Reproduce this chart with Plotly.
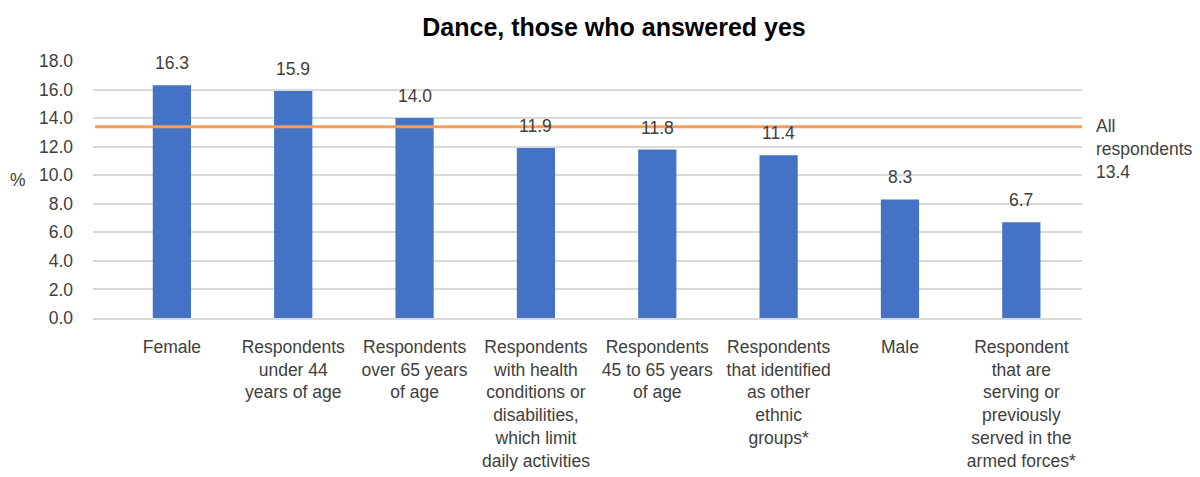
import plotly.graph_objects as go

categories = [
    "Female",
    "Respondents<br>under 44<br>years of age",
    "Respondents<br>over 65 years<br>of age",
    "Respondents<br>with health<br>conditions or<br>disabilities,<br>which limit<br>daily activities",
    "Respondents<br>45 to 65 years<br>of age",
    "Respondents<br>that identified<br>as other<br>ethnic<br>groups*",
    "Male",
    "Respondent<br>that are<br>serving or<br>previously<br>served in the<br>armed forces*",
]
values = [16.3, 15.9, 14.0, 11.9, 11.8, 11.4, 8.3, 6.7]
all_respondents = 13.4
y_ticks = [0, 2, 4, 6, 8, 10, 12, 14, 16, 18]

FONT = "Liberation Sans"
TXT = "#404040"
FS = 17.5
x_idx = list(range(len(categories)))

fig = go.Figure()
fig.add_trace(go.Bar(
    x=x_idx, y=values, width=0.315,
    marker=dict(color="#4472C4", line=dict(width=0)),
    hoverinfo="skip",
))

fig.add_shape(type="line", xref="paper", yref="y", x0=0.002, x1=1, y0=all_respondents, y1=all_respondents,
              line=dict(color="#F79C5B", width=3), layer="above")

for xi, v in zip(x_idx, values):
    fig.add_annotation(x=xi, y=v, text=f"{v:.1f}", showarrow=False, yanchor="bottom", yshift=10,
                       font=dict(family=FONT, size=FS, color=TXT))

fig.add_annotation(xref="paper", x=1, xanchor="left", xshift=12, y=all_respondents, yanchor="top", yshift=13,
                   text=f"All<br>respondents<br>{all_respondents:.1f}", align="left", showarrow=False,
                   font=dict(family=FONT, size=FS, color=TXT))

fig.add_annotation(xref="paper", yref="paper", x=0, xanchor="center", xshift=-75, y=0.537, text="%",
                   showarrow=False, font=dict(family=FONT, size=FS, color=TXT))

fig.update_layout(
    width=1200, height=477,
    margin=dict(l=85, r=126, t=53, b=167, autoexpand=False),
    paper_bgcolor="white", plot_bgcolor="white",
    showlegend=False,
    title=dict(text="<b>Dance, those who answered yes</b>", x=0.505, xanchor="center",
               y=1 - 19 / 477, yanchor="middle",
               font=dict(family=FONT, size=25, color="black")),
    font=dict(family=FONT, size=FS, color=TXT),
    xaxis=dict(
        tickmode="array", tickvals=x_idx, ticktext=categories,
        range=[-0.65, 7.5], showgrid=False, showline=True, linecolor="#D9D9D9", linewidth=1.5,
        ticks="", tickfont=dict(family=FONT, size=FS, color=TXT), ticklabelstandoff=12,
        tickangle=0, fixedrange=True, automargin=False,
    ),
    yaxis=dict(
        range=[0, 18], tickmode="array", tickvals=y_ticks, ticktext=[f"{t:.1f}" for t in y_ticks],
        showgrid=True, gridcolor="#D9D9D9", gridwidth=1.5, zeroline=False,
        showline=False, ticks="", tickfont=dict(family=FONT, size=FS, color=TXT), ticklabelstandoff=19,
        fixedrange=True, automargin=False,
    ),
)

fig.write_html("out.html")
